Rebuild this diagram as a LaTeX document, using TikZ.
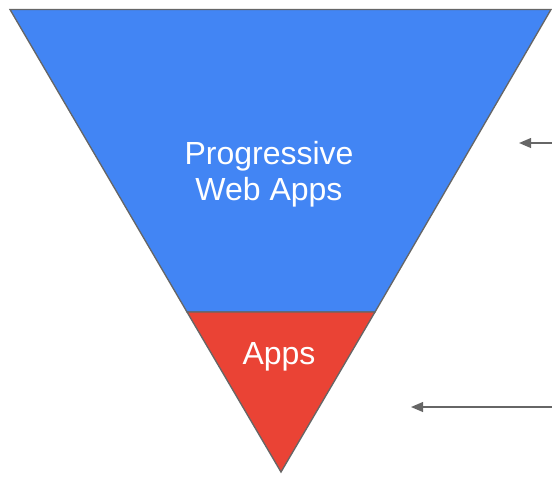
\documentclass[tikz,border=0pt]{standalone}
\usepackage{fontspec}
\setmainfont{Liberation Sans}
\usetikzlibrary{arrows.meta,positioning}
\definecolor{pwablue}{HTML}{4285F4}
\definecolor{appred}{HTML}{EA4335}
\definecolor{edgegray}{HTML}{666666}

\begin{document}
\begin{tikzpicture} [x=0.75pt,y=-0.75pt,{layer/.style={draw=edgegray,line width=1pt,line join=miter}},{label/.style={color=white,font=\fontsize{24}{27}\selectfont,align=center}},{pointer/.style={-{Triangle[length=3.2mm,width=2.6mm]},color=edgegray,line width=1.3pt}}]
	\useasboundingbox (0,0) rectangle (552,476);
	%%corners of funnel
	\coordinate (TL) at (10,9.5);
	\coordinate (TR) at (551,9.5);
	\coordinate (BL) at (187,312);
	\coordinate (BR) at (375,312);
	\coordinate (V) at (281,472);
	%%layers
	\draw [layer,fill=pwablue] (TL)--(TR)--(BR)--(BL)--cycle;
	\draw [layer,fill=appred] (BL)--(BR)--(V)--cycle;
	\node [label] (pwa) at (269,174) {Progressive\\Web Apps};
	\node [label] (apps) at (279,357) {Apps};

	%%pointers
	\coordinate (p1s) at (553,143);
	\coordinate (p1e) at (519,143);
	\coordinate (p2s) at (553,407);
	\coordinate (p2e) at (411,407);
	\draw [pointer] (p1s) -- (p1e);
	\draw [pointer] (p2s) -- (p2e);
	\end{tikzpicture}
\end{document}
